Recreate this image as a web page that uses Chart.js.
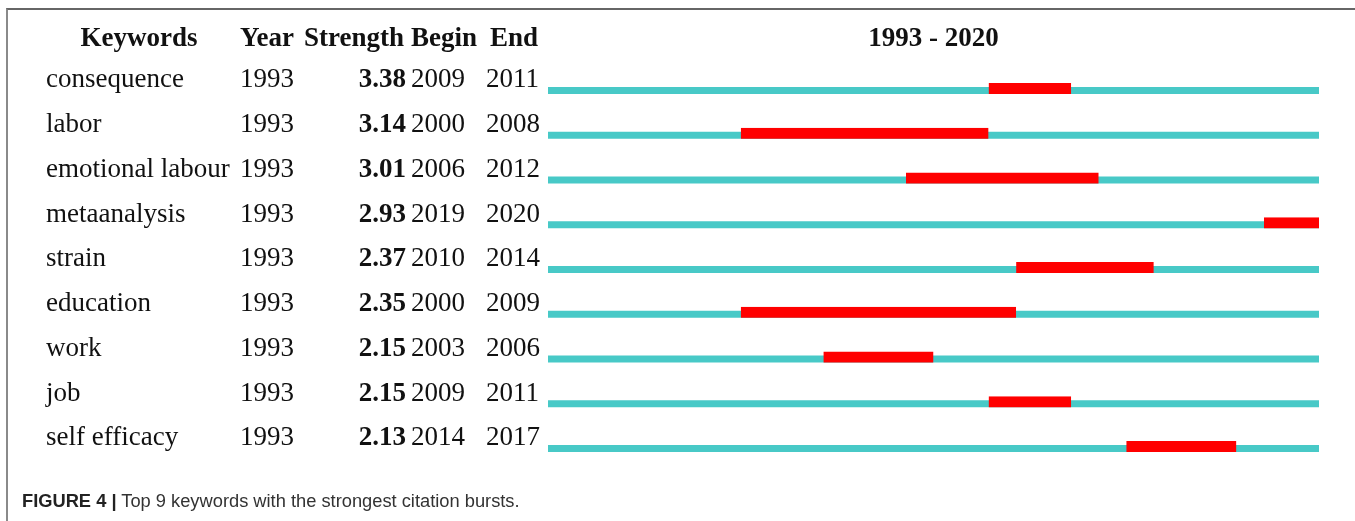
<!DOCTYPE html>
<html>
<head>
<meta charset="utf-8">
<title>Top 9 keywords with the strongest citation bursts</title>
<script src="https://cdn.jsdelivr.net/npm/chart.js@4.4.1/dist/chart.umd.min.js"></script>
<style>
  html, body {
    margin: 0;
    padding: 0;
    background: #fff;
  }
  .figure-wrap {
    position: relative;
    width: 1355px;
    height: 521px;
    overflow: hidden;
  }
  .figure-frame {
    position: absolute;
    left: 6px;
    top: 8px;
    width: 1400px;
    height: 600px;
    border-left: 2px solid #8a8a8a;
    border-top: 2px solid #666;
  }
  .chart-box {
    position: absolute;
    left: 0;
    top: 0;
    width: 1355px;
    height: 521px;
  }
  .caption {
    position: absolute;
    left: 22px;
    top: 490px;
    font-family: "Liberation Sans", Arial, sans-serif;
    font-size: 18.3px;
    color: #333;
    white-space: nowrap;
  }
  .caption b {
    color: #222;
  }
</style>
</head>
<body>
<div class="figure-wrap">
  <div class="figure-frame"></div>
  <div class="chart-box"><canvas id="burstChart"></canvas></div>
  <div class="caption"><b>FIGURE 4 |</b> Top 9 keywords with the strongest citation bursts.</div>
</div>

<script>
// Table data
const keywords = [
  "consequence",
  "labor",
  "emotional labour",
  "metaanalysis",
  "strain",
  "education",
  "work",
  "job",
  "self efficacy",
];
const firstYears = [1993, 1993, 1993, 1993, 1993, 1993, 1993, 1993, 1993];
const strengths = [3.38, 3.14, 3.01, 2.93, 2.37, 2.35, 2.15, 2.15, 2.13];
const burstBegin = [2009, 2000, 2006, 2019, 2010, 2000, 2003, 2009, 2014];
const burstEnd = [2011, 2008, 2012, 2020, 2014, 2009, 2006, 2011, 2017];
const rangeStart = 1993;
const rangeEnd = 2020;

const headers = ["Keywords", "Year", "Strength", "Begin", "End"];

const CYAN = "#48c9c7";
const RED = "#ff0000";
const SERIF = '"Liberation Serif", "Times New Roman", serif';

// each burst covers whole years, so a bar runs from begin to end + 1
const burstSpans = burstBegin.map((b, i) => [b, burstEnd[i] + 1]);
const fullSpans = keywords.map(() => [rangeStart, rangeEnd + 1]);

// Draws the table on the left and the period header
const tablePlugin = {
  id: "burstTable",
  afterDatasetsDraw(chart) {
    const { ctx, chartArea, scales } = chart;
    const yScale = scales.y;
    ctx.save();
    ctx.fillStyle = "#111";
    ctx.textBaseline = "alphabetic";

    // header row
    const headY = 46;
    ctx.font = `bold 27px ${SERIF}`;
    ctx.textAlign = "center";
    ctx.fillText(headers[0], 139, headY);
    ctx.textAlign = "left";
    ctx.fillText(headers[1], 240, headY);
    ctx.fillText(headers[2], 304, headY);
    ctx.fillText(headers[3], 411, headY);
    ctx.fillText(headers[4], 490, headY);
    ctx.textAlign = "center";
    ctx.fillText(
      `${rangeStart} - ${rangeEnd}`,
      (chartArea.left + chartArea.right) / 2,
      headY
    );

    // rows
    keywords.forEach((kw, i) => {
      const y = yScale.getPixelForValue(i) - 3;
      ctx.font = `27px ${SERIF}`;
      ctx.textAlign = "left";
      ctx.fillText(kw, 46, y);
      ctx.fillText(String(firstYears[i]), 240, y);
      ctx.fillText(String(burstBegin[i]), 411, y);
      ctx.fillText(String(burstEnd[i]), 486, y);
      ctx.font = `bold 27px ${SERIF}`;
      ctx.textAlign = "right";
      ctx.fillText(strengths[i].toFixed(2), 406, y);
    });
    ctx.restore();
  },
};

const ctx = document.getElementById("burstChart").getContext("2d");
const burstChart = new Chart(ctx, {
  type: "bar",
  data: {
    labels: keywords,
    datasets: [
      {
        label: "Burst",
        data: burstSpans,
        backgroundColor: RED,
        // transparent bottom border lifts the red block above the line
        borderColor: "rgba(0,0,0,0)",
        borderWidth: { top: 0, right: 0, bottom: 4, left: 0 },
        borderSkipped: false,
        barThickness: 15,
        grouped: false,
        inflateAmount: 0,
      },
      {
        label: "Period",
        data: fullSpans,
        backgroundColor: CYAN,
        borderWidth: 0,
        barThickness: 7,
        grouped: false,
        inflateAmount: 0,
      },
    ],
  },
  options: {
    indexAxis: "y",
    responsive: true,
    maintainAspectRatio: false,
    animation: false,
    layout: {
      padding: { left: 548, right: 36, top: 68, bottom: 50.25 },
    },
    plugins: {
      legend: { display: false },
      tooltip: { enabled: false },
    },
    scales: {
      x: {
        type: "linear",
        min: rangeStart,
        max: rangeEnd + 1,
        display: false,
      },
      y: {
        type: "category",
        display: false,
        offset: true,
      },
    },
  },
  plugins: [tablePlugin],
});
</script>
</body>
</html>
